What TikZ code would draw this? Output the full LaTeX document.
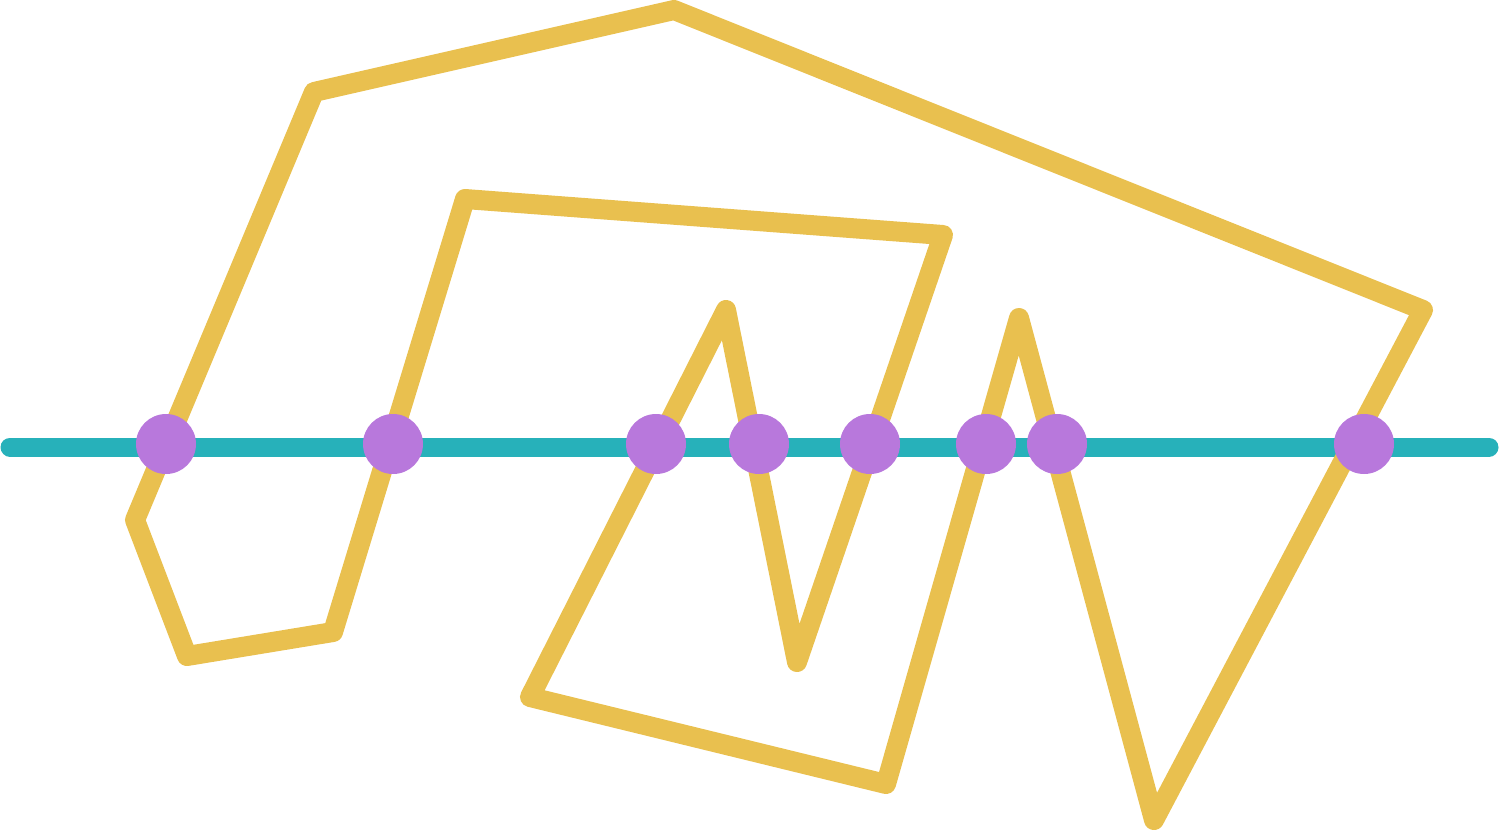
\documentclass[tikz,border=0pt]{standalone}
\definecolor{ylw}{HTML}{E9C04F}
\definecolor{tealc}{HTML}{27B1BA}
\definecolor{purp}{HTML}{B878DC}
\tikzset{
  poly/.style={draw=ylw, line width=20pt, line join=round},
  axisline/.style={draw=tealc, line width=19pt, line cap=round},
  dot/.style={circle, fill=purp, minimum size=60pt, inner sep=0pt}
}
\begin{document}
\begin{tikzpicture}[x=1pt,y=-1pt]
\useasboundingbox (0,0) rectangle (1499,831);
\coordinate (v1) at (674,10);
\coordinate (v2) at (1423,310);
\coordinate (v3) at (1154,820);
\coordinate (v4) at (1019,318);
\coordinate (v5) at (886,784);
\coordinate (v6) at (530,697);
\coordinate (v7) at (726,310);
\coordinate (v8) at (797,662);
\coordinate (v9) at (943,235);
\coordinate (v10) at (465,199);
\coordinate (v11) at (333,632);
\coordinate (v12) at (187,656);
\coordinate (v13) at (135,520);
\coordinate (v14) at (314,92);
\coordinate (l0) at (10,447);
\coordinate (l1) at (1489,447);
\draw[axisline] (l0) -- (l1);
\draw[poly] (v1) -- (v2) -- (v3) -- (v4) -- (v5) -- (v6) -- (v7) -- (v8) -- (v9) -- (v10) -- (v11) -- (v12) -- (v13) -- (v14) -- cycle;
\node[dot] (d1) at (166,444) {};
\node[dot] (d2) at (393,444) {};
\node[dot] (d3) at (656,444) {};
\node[dot] (d4) at (759,444) {};
\node[dot] (d5) at (870,444) {};
\node[dot] (d6) at (986,444) {};
\node[dot] (d7) at (1057,444) {};
\node[dot] (d8) at (1364,444) {};
\end{tikzpicture}
\end{document}
